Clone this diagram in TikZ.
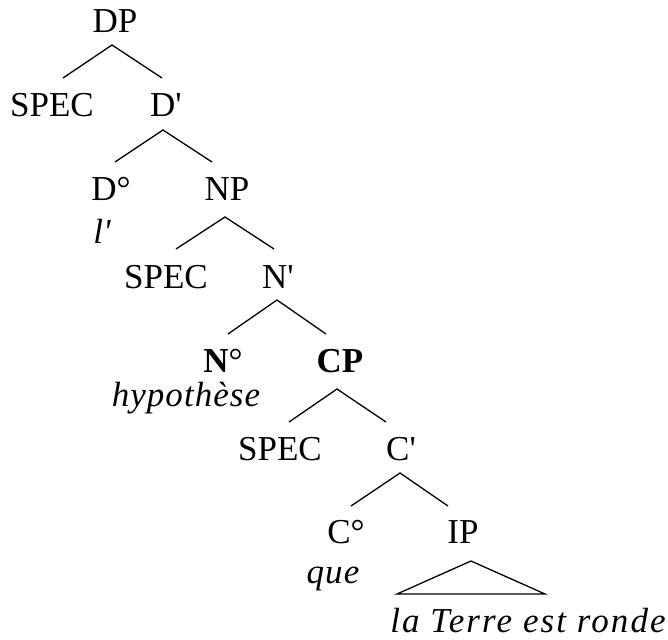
\documentclass[tikz,border=0pt]{standalone}
\usepackage{fontspec}
\setmainfont{Liberation Serif}
\newfontfamily\spit{Liberation Serif}[LetterSpace=3]
\newfontfamily\spitw{Liberation Serif}[LetterSpace=6]
\begin{document}
\begin{tikzpicture}[x=1pt,y=-1pt,
  lab/.style={anchor=base, inner sep=0pt, font=\fontsize{35}{40}\selectfont},
  itl/.style={anchor=base, inner sep=0pt, font=\fontsize{35}{40}\selectfont\spit\itshape},
  br/.style={line width=1.3pt, line join=miter}]
\useasboundingbox (0,0) rectangle (668,639);
\node[lab] (DP) at (115,33) {DP};
\node[lab] (SPECa) at (52,117) {SPEC};
\node[lab] (Dbar) at (166,117) {D\textquotesingle};
\node[lab] (D0) at (111,200) {D°};
\node[lab] (NP) at (227,200) {NP};
\node[itl] (lw) at (102,243) {l\textquotesingle};
\node[lab] (SPECb) at (166,288) {SPEC};
\node[lab] (Nbar) at (278,288) {N\textquotesingle};
\node[lab] (N0) at (223,372) {\textbf{N}°};
\node[lab] (CP) at (340,372) {\textbf{CP}};
\node[itl] (hyp) at (186,406) {hypothèse};
\node[lab] (SPECc) at (280,460) {SPEC};
\node[lab] (Cbar) at (401,460) {C\textquotesingle};
\node[lab] (C0) at (346,543) {C°};
\node[lab] (IP) at (463,543) {IP};
\node[itl] (que) at (333,583) {que};
\node[itl, font=\fontsize{35}{40}\selectfont\spitw\itshape, text depth=0pt] (terre) at (528,632) {la Terre est ronde};
\draw[br] ([shift={(11,-39)}]SPECa.base) -- ([shift={(-3,12)}]DP.base) -- ([shift={(-4,-39)}]Dbar.base);
\draw[br] ([shift={(4,-38)}]D0.base) -- ([shift={(-3,13)}]Dbar.base) -- ([shift={(-15,-38)}]NP.base);
\draw[br] ([shift={(10,-39)}]SPECb.base) -- ([shift={(-2,17)}]NP.base) -- ([shift={(-4,-39)}]Nbar.base);
\draw[br] ([shift={(5,-38)}]N0.base) -- ([shift={(-1,12)}]Nbar.base) -- ([shift={(-14,-38)}]CP.base);
\draw[br] ([shift={(9,-38)}]SPECc.base) -- ([shift={(-3,17)}]CP.base) -- ([shift={(-15,-38)}]Cbar.base);
\draw[br] ([shift={(5,-37)}]C0.base) -- ([shift={(-1,13)}]Cbar.base) -- ([shift={(-15,-37)}]IP.base);
\draw[br] ([shift={(8,18)}]IP.base) -- ([shift={(-131,-38)}]terre.base) -- ([shift={(17,-38)}]terre.base) -- cycle;
\end{tikzpicture}
\end{document}
